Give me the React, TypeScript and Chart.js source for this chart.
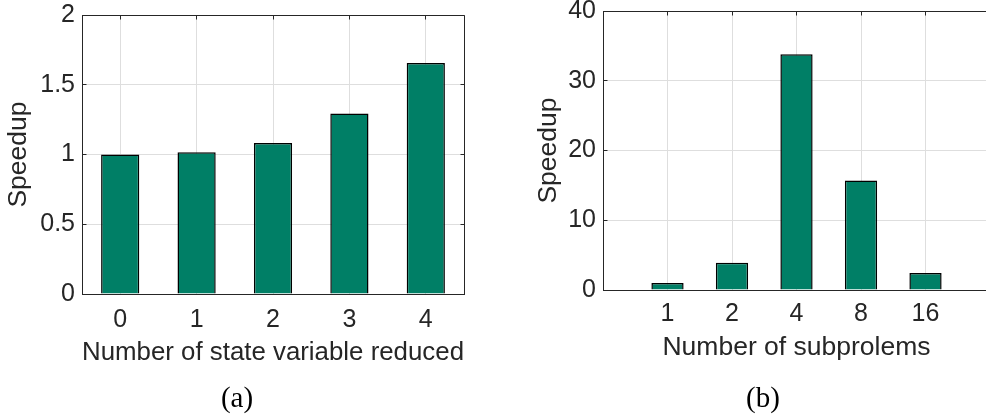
import React, { useEffect, useRef } from "react";
import { Chart, registerables } from "chart.js";

Chart.register(...registerables);

// ---- data ----
const STATE_VARS = ["0", "1", "2", "3", "4"];
const SPEEDUP_A = [1.0, 1.017, 1.083, 1.294, 1.656];
const Y_TICKS_A = { min: 0, max: 2, step: 0.5 };

const SUBPROBLEMS = ["1", "2", "4", "8", "16"];
const SPEEDUP_B = [1.0, 3.92, 33.8, 15.7, 2.44];
const Y_TICKS_B = { min: 0, max: 40, step: 10 };

const X_TITLE_A = "Number of state variable reduced";
const X_TITLE_B = "Number of subprolems";
const Y_TITLE = "Speedup";
const CAPTION_A = "(a)";
const CAPTION_B = "(b)";

// ---- style ----
const BAR_COLOR = "#007f66";
const AXIS_COLOR = "#262626";
const GRID_COLOR = "#dedede";
const SANS = "'Liberation Sans', Arial, Helvetica, sans-serif";
const SERIF = "'Liberation Serif', 'Times New Roman', serif";
const TICK_LEN = 4;
const TICK_FONT = 25;
const TITLE_FONT = 26.5;

const alignPx = (v: number) => Math.round(v - 0.5) + 0.5;

const boxPlugin = {
  id: "matlabBox",
  afterDraw(chart: any) {
    const { ctx, chartArea } = chart;
    const xs = chart.scales.x;
    const ys = chart.scales.y;
    const L = alignPx(chartArea.left);
    const R = alignPx(chartArea.right);
    const T = alignPx(chartArea.top);
    const B = alignPx(chartArea.bottom);
    ctx.save();
    ctx.strokeStyle = AXIS_COLOR;
    ctx.lineWidth = 1;
    ctx.beginPath();
    ctx.moveTo(L, T);
    ctx.lineTo(R, T);
    ctx.lineTo(R, B);
    ys.ticks.forEach((_t: any, i: number) => {
      const py = alignPx(ys.getPixelForTick(i));
      ctx.moveTo(L, py);
      ctx.lineTo(L + TICK_LEN, py);
      ctx.moveTo(R, py);
      ctx.lineTo(R - TICK_LEN, py);
    });
    xs.ticks.forEach((t: any, i: number) => {
      if (t.label === "" || t.label == null) return;
      const px = alignPx(xs.getPixelForTick(i));
      ctx.moveTo(px, T);
      ctx.lineTo(px, T + TICK_LEN);
    });
    ctx.stroke();
    ctx.restore();
  },
};

type Cfg = {
  labels: string[];
  values: (number | null)[];
  yr: { min: number; max: number; step: number };
  xTitle: string;
  padding: { left: number; right: number; top: number; bottom: number };
  yWidth: number;
  xHeight: number;
  xOffset: boolean;
  tickPad: number;
};

function makeConfig(c: Cfg): any {
  return {
    type: "bar",
    data: {
      labels: c.labels,
      datasets: [
        {
          data: c.values,
          backgroundColor: BAR_COLOR,
          borderColor: "#000000",
          borderWidth: 1.5,
          barPercentage: 0.5,
          categoryPercentage: 1,
        },
      ],
    },
    options: {
      animation: false,
      responsive: false,
      maintainAspectRatio: false,
      layout: { padding: c.padding },
      plugins: {
        legend: { display: false },
        tooltip: { enabled: false },
        title: { display: false },
      },
      scales: {
        x: {
          offset: c.xOffset,
          grid: { color: GRID_COLOR, drawTicks: false, offset: false, lineWidth: 1 },
          border: { color: AXIS_COLOR, width: 1 },
          ticks: {
            color: AXIS_COLOR,
            font: { family: SANS, size: TICK_FONT },
            padding: c.tickPad,
            maxRotation: 0,
            autoSkip: false,
          },
          title: {
            display: true,
            text: c.xTitle,
            color: AXIS_COLOR,
            font: { family: SANS, size: TITLE_FONT },
            padding: { top: 0, bottom: 0 },
          },
          afterFit: (s: any) => {
            s.height = c.xHeight;
            s.paddingLeft = 0;
            s.paddingRight = 0;
          },
        },
        y: {
          min: c.yr.min,
          max: c.yr.max,
          grid: { color: GRID_COLOR, drawTicks: false, lineWidth: 1 },
          border: { color: AXIS_COLOR, width: 1 },
          ticks: {
            stepSize: c.yr.step,
            color: AXIS_COLOR,
            font: { family: SANS, size: TICK_FONT },
            padding: 7,
            callback: (v: any) => String(Number(v)),
          },
          title: {
            display: true,
            text: Y_TITLE,
            color: AXIS_COLOR,
            font: { family: SANS, size: TITLE_FONT },
            padding: { top: 0, bottom: 0 },
          },
          afterFit: (s: any) => {
            s.width = c.yWidth;
            s.paddingTop = 0;
            s.paddingBottom = 0;
          },
        },
      },
    },
    plugins: [boxPlugin],
  };
}

function BarPanel(props: { cfg: Cfg; left: number; width: number; height: number }) {
  const ref = useRef<HTMLCanvasElement | null>(null);
  useEffect(() => {
    if (!ref.current) return;
    const chart = new Chart(ref.current, makeConfig(props.cfg));
    return () => chart.destroy();
  }, []);
  return (
    <canvas
      ref={ref}
      width={props.width}
      height={props.height}
      style={{
        position: "absolute",
        left: props.left,
        top: 0,
        width: props.width,
        height: props.height,
      }}
    />
  );
}

const captionStyle = (cx: number): React.CSSProperties => ({
  position: "absolute",
  left: cx - 50,
  width: 100,
  top: 383,
  textAlign: "center",
  fontFamily: SERIF,
  fontSize: 29,
  lineHeight: "29px",
  color: "#000",
});

export default function App() {
  const cfgA: Cfg = {
    labels: STATE_VARS,
    values: SPEEDUP_A,
    yr: Y_TICKS_A,
    xTitle: X_TITLE_A,
    padding: { left: 3, right: 26, top: 15, bottom: 48 },
    yWidth: 79,
    xHeight: 417 - 48 - 294,
    xOffset: true,
    tickPad: 11,
  };
  const cfgB: Cfg = {
    labels: ["", ...SUBPROBLEMS, ""],
    values: [null, ...SPEEDUP_B, null],
    yr: Y_TICKS_B,
    xTitle: X_TITLE_B,
    padding: { left: 43, right: 4, top: 11, bottom: 53 },
    yWidth: 70,
    xHeight: 417 - 53 - 290,
    xOffset: false,
    tickPad: 9,
  };
  return (
    <div
      style={{
        position: "absolute",
        left: 0,
        top: 0,
        width: 986,
        height: 417,
        overflow: "hidden",
        background: "#fff",
      }}
    >
      <BarPanel cfg={cfgA} left={0} width={490} height={417} />
      <BarPanel cfg={cfgB} left={490} width={504} height={417} />
      <div style={captionStyle(237)}>{CAPTION_A}</div>
      <div style={captionStyle(763)}>{CAPTION_B}</div>
    </div>
  );
}
